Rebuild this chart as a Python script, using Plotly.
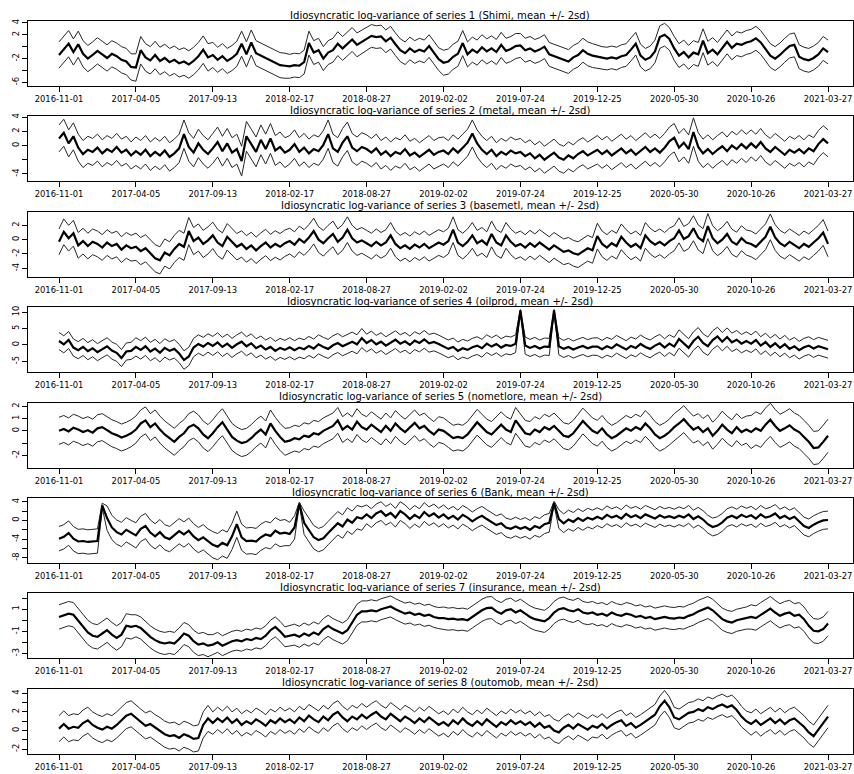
import numpy as np
import plotly.graph_objects as go

W, H = 854, 774

dates = ["2016-11-01", "2017-04-05", "2017-09-13", "2018-02-17", "2018-08-27", "2019-02-02",
         "2019-07-24", "2019-12-25", "2020-05-30", "2020-10-26", "2021-03-27"]
tick_idx = list(range(0, 161, 16))

titles = [
    "Idiosyncratic log-variance of series 1 (Shimi, mean +/- 2sd)",
    "Idiosyncratic log-variance of series 2 (metal, mean +/- 2sd)",
    "Idiosyncratic log-variance of series 3 (basemetl, mean +/- 2sd)",
    "Idiosyncratic log-variance of series 4 (oilprod, mean +/- 2sd)",
    "Idiosyncratic log-variance of series 5 (nometlore, mean +/- 2sd)",
    "Idiosyncratic log-variance of series 6 (Bank, mean +/- 2sd)",
    "Idiosyncratic log-variance of series 7 (insurance, mean +/- 2sd)",
    "Idiosyncratic log-variance of series 8 (outomob, mean +/- 2sd)",
]

p1_mean = [
    -1.4, -0.5, 0.5, -0.9, 0.4, -1.2, -2.0, -1.4, -0.7, -1.3, -1.9, -1.2, -1.6, -2.2, -2.5, -3.4,
    -3.5, -0.6, -1.8, -2.3, -1.4, -2.4, -1.9, -2.6, -2.2, -2.8, -2.5, -3.0, -2.4, -1.6, -0.5, -1.8,
    -1.4, -2.2, -1.6, -2.4, -1.9, -1.2, 0.5, -1.3, 0.7, -1.1, -1.5, -2.0, -2.4, -2.8, -3.1, -3.2,
    -3.3, -3.1, -3.2, -2.6, 0.6, -1.0, -0.6, -2.0, -1.0, -0.6, 0.5, -0.3, 0.4, 1.2, 0.3, 0.8,
    1.3, 1.8, 1.6, 1.7, 0.9, 1.5, 0.4, -0.6, -1.1, -0.3, -0.9, -0.5, -0.8, 0.1, -1.0, -2.1,
    -2.7, -2.5, -1.7, -1.2, 0.6, -1.3, -0.5, -1.0, -0.1, -0.8, -0.3, -0.9, 0.3, -0.7, -0.4, 0.1,
    0.2, -0.6, -0.3, -0.8, -0.5, 0.0, -1.3, -1.6, -1.9, -2.1, -2.5, -1.8, -1.4, -0.6, -1.2, -1.5,
    -1.7, -1.9, -2.0, -1.8, -2.0, -1.6, -1.4, -0.5, 0.5, -1.5, -2.2, -1.8, -0.8, 1.6, 2.0, 1.3,
    -0.3, -1.5, -0.9, -1.8, -1.0, -1.3, 1.0, -1.1, -0.5, -1.3, -0.2, 0.8, -0.2, 0.5, 0.3, 0.7,
    0.9, 1.4, 0.7, -0.4, -1.5, -2.0, -1.4, -0.6, 0.1, 0.3, -1.7, -2.1, -2.3, -1.9, -1.3, -0.3, -0.9,
]
p2_mean = [
    1.0, 1.8, 0.3, 1.3, -0.3, -1.2, -0.6, -0.9, -0.3, -1.1, -0.5, -0.9, -0.2, -1.0, -0.6, -1.4,
    -0.8, -1.3, -0.6, -1.5, -0.9, -1.4, -0.7, -1.6, -1.1, -0.4, 1.6, -0.2, -1.0, 0.3, -0.6, -1.2,
    -0.4, 0.5, -0.8, 0.3, -1.0, -0.5, -2.2, 1.3, 0.2, -0.9, 0.8, -0.5, 1.0, -0.7, -0.2, -1.0,
    -0.6, 0.2, -0.9, -0.3, -1.1, -0.5, -0.8, 0.1, 1.6, -0.4, -0.9, 0.4, 1.3, -0.3, -0.8, -0.2,
    -0.5, -1.0, -0.4, -1.3, -0.8, -1.5, -0.9, -1.2, -0.5, -1.4, -1.0, -1.6, -1.1, -0.6, -1.3, -0.9,
    -0.7, -1.2, -0.4, -1.0, -0.3, 0.4, 1.7, 0.3, -0.6, -1.2, -0.6, -1.5, -0.9, -1.3, -0.7, -1.1,
    -0.9, -1.5, -1.1, -1.8, -1.3, -2.0, -1.5, -1.0, -1.7, -2.0, -1.4, -1.8, -1.2, -0.8, -1.4, -1.0,
    -0.6, -1.2, -0.7, -1.4, -0.9, -0.4, -1.1, -0.6, -1.3, -0.8, -0.2, -0.9, -0.4, -1.0, -0.3, 0.6,
    1.1, -0.3, 0.4, -0.5, 1.9, -0.2, -1.1, -0.5, -1.2, -0.6, -0.1, -0.8, 0.0, -0.5, 0.2, -0.4,
    0.3, -0.3, 0.5, -0.4, -0.9, -0.2, -0.8, -1.3, -0.6, -1.0, -0.5, -1.1, -0.4, -0.8, 0.2, 0.9, 0.3,
]
p3_mean = [
    -0.3, 1.1, 0.2, 0.9, -0.8, -0.2, -0.9, -0.3, -0.6, -1.1, -0.4, -0.9, -0.6, -1.4, -0.8, -1.2,
    -1.0, -1.6, -1.2, -1.9, -2.6, -2.9, -1.8, -2.2, -1.3, -0.6, -1.0, 1.2, -0.2, 0.3, -0.6, -0.1,
    0.6, -0.4, -0.9, 0.4, -0.3, -1.0, -0.6, -1.3, -0.8, -1.5, -0.9, -0.4, -1.1, -0.6, -1.0, -0.5,
    -0.2, -0.7, 0.1, -0.4, 0.3, 1.2, 0.0, -0.5, 0.2, 0.8, -0.3, 0.3, 1.4, 0.2, -0.4, -0.1,
    -0.5, -0.9, -0.3, -0.8, -0.4, 0.6, -0.6, -1.2, -0.8, -1.3, -0.7, -1.1, -0.6, -1.2, -0.8, -0.4,
    -0.7, -0.2, 1.4, -0.4, -0.9, -0.3, 0.6, -0.5, -0.1, -0.7, 0.8, -0.4, -0.8, 0.6, -0.3, -0.9,
    -0.6, -1.1, -0.5, -1.0, -0.4, -0.9, -1.4, -0.8, -1.3, -1.7, -1.5, -1.9, -2.1, -1.6, -1.2, -1.5,
    0.5, -0.6, -1.1, -0.5, -0.9, 0.4, -0.4, -1.0, -0.6, -1.2, 0.6, -0.2, -0.7, -0.3, -0.8, -0.2,
    0.2, 1.3, 0.1, 0.5, 1.6, 0.3, -0.2, 1.9, 0.2, -0.5, 0.0, 0.8, -0.3, -0.7, 0.2, -0.4,
    -0.6, -1.0, -0.3, 0.4, 1.8, 0.3, -0.5, -0.9, -0.3, -0.8, -1.2, -0.6, -1.0, -0.4, 0.2, 1.0, -0.6,
]
p4_mean = [
    1.2, 0.2, 1.5, -0.8, -1.6, -0.6, -1.9, -1.0, -2.2, -1.3, -0.4, -1.7, -2.4, -4.0, -2.0, -1.8,
    -0.6, -1.5, -0.4, -2.0, -1.1, -2.4, -0.9, -1.8, -1.2, -2.6, -4.6, -3.5, -0.8, 0.3, -0.5, 0.6,
    -0.3, 0.8, -0.6, 0.4, -0.9, 0.2, 1.0, -0.4, 0.5, -1.0, -0.2, -1.4, -0.6, -1.8, -0.9, -1.5,
    -0.7, -1.6, -0.8, -1.3, -0.3, -1.1, 0.2, -0.6, -1.2, -0.1, 0.6, -0.4, 0.3, 1.0, 0.2, 2.1,
    0.6, 1.5, 0.2, 1.0, -0.2, 0.8, 1.6, 0.4, 1.1, 0.0, 1.3, 0.6, 1.7, 0.5, 0.9, 0.3,
    -0.4, -1.2, -0.6, -1.8, -1.0, -1.5, -0.7, -0.2, -1.0, 0.4, -0.5, 0.3, -0.8, 0.0, -0.3, 0.4,
    10.5, -0.2, -0.9, -0.3, -1.1, -0.5, -0.6, 10.5, -0.4, -1.2, -0.6, -1.4, -0.8, -0.3, -1.0, -0.5,
    -0.5, -1.3, -0.4, -1.0, 0.2, -0.7, -1.4, -0.3, -0.9, 0.3, -0.6, -1.2, -0.2, 0.5, -0.8, 0.4,
    -0.5, 1.8, 0.3, -0.9, 1.2, 2.5, 0.6, -0.4, 1.5, 2.6, 1.0, 2.4, 0.8, 1.6, 0.4, 1.2,
    0.4, 1.5, -0.2, 0.9, -0.6, 0.5, -0.9, 0.2, -1.2, -0.4, -1.6, -0.7, -0.2, -1.1, -0.4, -0.9, -1.3,
]
p5_mean = [
    0.0, 0.15, -0.05, 0.25, 0.1, -0.1, 0.05, -0.15, 0.2, 0.3, 0.05, -0.2, -0.35, -0.55, -0.4, -0.2,
    0.1, 0.6, 0.85, 0.3, 0.6, 0.1, -0.3, -0.6, -0.9, -0.5, -0.2, 0.3, 0.5, 0.2, -0.3, -0.6,
    -0.2, 0.3, 0.7, 0.1, -0.5, -0.8, -1.0, -0.9, -0.6, -0.2, 0.1, -0.3, 0.6, 0.0, -0.5, -0.9,
    -0.8, -0.6, -0.7, -0.4, -0.5, -0.2, -0.3, 0.0, 0.2, 0.4, 0.85, 0.1, 0.4, 0.1, 0.75, 0.3,
    0.1, 0.5, 0.2, -0.1, 0.4, 0.0, 0.6, 0.2, -0.1, 0.3, 0.65, 0.2, 0.4, 0.0, -0.3, 0.1,
    0.0, -0.3, -0.6, -0.5, -0.6, -0.3, 0.2, 0.7, 0.3, -0.1, -0.3, 0.1, 0.5, 0.1, -0.1, 0.85,
    0.3, -0.2, -0.3, 0.1, -0.1, 0.3, 0.1, 0.4, 0.0, -0.4, -0.5, -0.2, 0.3, 0.8, 0.4, 0.0,
    -0.2, 0.2, -0.3, -0.6, -0.4, -0.1, 0.2, 0.0, 0.3, 0.1, 0.6, 0.2, -0.3, -0.6, -0.4, -0.1,
    0.3, 0.6, 0.95, 0.5, 0.1, 0.3, -0.1, 0.2, -0.4, 0.0, 0.5, 0.1, -0.2, 0.3, -0.1, 0.1,
    -0.1, 0.2, 0.0, 0.5, 0.9, 0.4, 0.0, 0.2, 0.45, 0.1, -0.1, -0.5, -0.9, -1.4, -1.35, -0.9, -0.4,
]
p6_mean = [
    -3.9, -3.5, -2.7, -3.9, -4.5, -4.4, -4.6, -4.5, -4.4, 3.2, 0.5, -1.5, -2.5, -3.0, -2.0, -2.6,
    -3.2, -1.8, -1.2, -2.6, -3.4, -2.5, -3.6, -4.0, -3.2, -2.3, -3.0, -2.2, -3.4, -4.2, -3.6, -4.5,
    -5.2, -5.6, -4.8, -5.3, -3.4, -0.8, -3.6, -4.4, -4.3, -4.5, -3.6, -3.0, -3.3, -2.2, -2.8, -2.6,
    -2.9, -1.5, 3.6, -0.5, -2.0, -3.6, -4.2, -3.8, -2.7, -1.6, -0.6, -1.3, 0.2, -0.5, 0.7, 0.4,
    1.3, 0.5, 1.5, 2.0, 1.0, 1.6, 0.6, 2.0, 1.3, 0.3, 1.2, 0.5, 1.8, 0.9, 1.5, 0.6,
    1.3, 0.4, 1.0, 0.2, 1.2, 0.6, -0.2, 0.5, 1.0, 0.3, -0.3, -1.0, -0.6, -1.5, -1.8, -1.3,
    -1.8, -1.4, -2.0, -1.2, -1.6, -0.8, -0.5, 3.7, 0.3, -0.6, 0.2, -0.3, 0.5, -0.1, 0.6, 0.2,
    0.8, 0.3, 1.2, 0.6, 1.0, 0.4, 1.4, 0.7, 1.1, 0.5, 1.3, 0.8, 0.4, 1.1, 0.6, 0.9,
    0.5, 1.0, 0.6, 1.3, 0.3, 0.9, 0.2, -0.8, -1.4, -1.1, -0.4, 0.6, 1.0, 0.5, 1.2, 0.7,
    1.1, 0.4, 1.3, 0.6, 0.9, 1.5, 0.5, 1.0, 0.3, 0.8, -0.2, -1.2, -1.6, -0.9, -0.4, 0.0, 0.1,
]
p7_mean = [
    0.3, 0.45, 0.6, 0.5, 0.0, -0.6, -1.1, -1.4, -1.5, -1.2, -0.9, -1.3, -1.6, -1.3, -0.5, -0.6,
    -0.5, -0.7, -1.1, -1.5, -1.8, -2.0, -2.1, -2.0, -2.1, -1.7, -1.2, -1.4, -1.9, -2.2, -2.1, -2.3,
    -2.2, -2.0, -2.3, -2.1, -1.9, -1.8, -1.9, -1.7, -1.8, -1.6, -1.7, -1.4, -0.9, -0.6, -1.0, -1.5,
    -1.4, -1.3, -1.5, -1.2, -1.4, -1.1, -1.3, -0.8, -0.5, -0.8, -1.0, -1.2, -0.9, -0.2, 0.5, 0.8,
    0.8, 0.9, 0.8, 1.0, 1.1, 1.25, 1.0, 0.8, 0.6, 0.7, 0.5, 0.6, 0.4, 0.5, 0.3, 0.2,
    0.2, 0.1, 0.15, 0.05, 0.1, 0.0, 0.3, 0.6, 0.9, 1.1, 1.15, 0.8, 0.6, 0.9, 1.0, 0.7,
    0.9, 0.6, 0.3, 0.1, 0.0, -0.1, 0.2, 0.7, 1.0, 1.1, 0.9, 0.8, 1.0, 0.7, 0.6, 0.7,
    0.5, 0.6, 0.4, 0.7, 0.5, 0.4, 0.6, 0.5, 0.3, 0.4, 0.2, 0.3, 0.1, 0.2, 0.3, 0.2,
    0.15, 0.25, 0.2, 0.4, 0.55, 0.8, 1.0, 1.15, 0.9, 0.5, 0.1, -0.1, -0.2, 0.0, 0.1, 0.2,
    0.3, 0.2, 0.5, 0.8, 1.05, 0.7, 0.4, 0.6, 0.7, 0.4, 0.5, 0.1, -0.5, -0.95, -1.0, -0.8, -0.3,
]
p8_mean = [
    0.2, 0.7, 0.2, 0.4, 0.3, 0.8, 1.1, 0.6, 0.3, 0.1, 0.4, 0.2, 0.6, 1.1, 1.6, 1.8,
    1.4, 0.9, 0.5, 0.7, 0.3, 0.0, -0.4, -0.6, -0.5, -0.8, -0.4, -0.6, -0.9, -0.8, 0.6, 1.3,
    0.8, 1.3, 0.9, 1.4, 0.8, 1.2, 0.6, 1.0, 0.7, 1.2, 0.9, 0.5, 1.1, 0.8, 1.3, 0.9,
    1.2, 0.8, 1.4, 1.0, 1.6, 1.2, 0.9, 1.5, 1.1, 1.7, 2.0, 1.4, 1.0, 1.5, 1.2, 1.7,
    1.3, 1.7, 2.0, 1.5, 1.2, 1.8, 1.4, 1.0, 1.5, 1.2, 0.8, 1.3, 0.9, 1.4, 1.0, 0.6,
    0.9, 0.5, 1.1, 0.7, 1.3, 0.8, 0.5, 1.0, 0.6, 1.2, 0.8, 0.4, 0.9, 0.6, 1.1, 0.7,
    1.0, 0.6, 0.9, 0.4, 0.8, 0.3, 0.5, 0.0, -0.2, 0.3, 0.6, 0.2, 0.7, 0.4, 0.1, 0.5,
    0.3, 0.7, 0.2, 0.6, 0.9, 1.1, 0.5, 0.8, 0.3, 0.6, 1.0, 1.3, 1.7, 2.6, 3.2, 2.5,
    1.4, 1.2, 1.6, 1.9, 2.0, 2.3, 2.1, 2.5, 2.3, 2.6, 2.8, 2.5, 2.7, 2.2, 1.5, 1.0,
    0.7, 1.1, 0.6, 1.0, 1.3, 0.8, 1.2, 0.7, 1.1, 1.3, 0.9, 0.4, -0.2, -0.6, 0.1, 0.8, 1.5,
]

# two standard deviations, one value per interval between date ticks
p1_sd2 = [2.2, 2.3, 2.1, 2.0, 1.9, 2.1, 2.0, 1.9, 2.0, 2.0]
p2_sd2 = [1.9, 2.0, 2.1, 2.0, 2.0, 1.9, 1.9, 2.0, 2.0, 1.9]
p3_sd2 = [1.8, 1.9, 1.85, 1.8, 1.8, 1.8, 1.8, 1.8, 1.75, 1.8]
p4_sd2 = [2.6, 2.8, 2.9, 2.9, 2.7, 2.7, 2.6, 2.7, 2.8, 2.7]
p5_sd2 = [1.1, 1.1, 1.1, 1.05, 1.05, 1.05, 1.05, 1.05, 1.1, 1.35]
p6_sd2 = [2.6, 2.7, 2.8, 2.5, 2.0, 2.0, 2.0, 1.9, 1.9, 1.9]
p7_sd2 = [1.1, 1.0, 0.9, 0.95, 0.95, 1.0, 1.0, 1.0, 1.0, 1.1]
p8_sd2 = [1.4, 1.4, 1.2, 1.2, 1.2, 1.2, 1.2, 1.1, 1.1, 1.2]

# points where the band collapses onto a spike
p4_spike_idx = [96, 103]
p4_spike_sd2 = [0.3, 0.3]
p6_spike_idx = [9, 50, 103]
p6_spike_sd2 = [0.5, 0.3, 0.4]

y_ranges = [[-6.6, 4.3], [-5.05, 4.1], [-5.2, 3.9], [-8.3, 11.5],
            [-3.0, 2.3], [-9.1, 4.8], [-3.45, 2.43], [-2.5, 4.48]]
y_tickvals = [[-6, -4, -2, 0, 2, 4], [-4, -2, 0, 2, 4], [-4, -2, 0, 2], [-5, 0, 5, 10],
              [-2, -1, 0, 1, 2], [-8, -6, -4, -2, 0, 2, 4], [-3, -2, -1, 0, 1, 2],
              [-2, -1, 0, 1, 2, 3, 4]]
y_ticktext = [["-6", "", "-2", "", "2", "4"], ["-4", "", "0", "2", "4"], ["-4", "-2", "0", "2"],
              ["-5", "0", "5", "10"], ["-2", "", "0", "1", "2"],
              ["-8", "", "-4", "", "0", "", "4"], ["-3", "", "-1", "", "1", ""],
              ["-2", "", "0", "", "2", "", "4"]]

means = [p1_mean, p2_mean, p3_mean, p4_mean, p5_mean, p6_mean, p7_mean, p8_mean]
sd2s = [p1_sd2, p2_sd2, p3_sd2, p4_sd2, p5_sd2, p6_sd2, p7_sd2, p8_sd2]
spikes = [[], [], [], list(zip(p4_spike_idx, p4_spike_sd2)), [],
          list(zip(p6_spike_idx, p6_spike_sd2)), [], []]

FONT = "DejaVu Sans, Verdana, sans-serif"
BOX_L, BOX_R = 28, 853
TOP0, BOX_H, STEP = 21, 65, 95.4
X_RANGE = [-6.45, 165.2]

fig = go.Figure()
annotations = []
layout = {}
for k in range(8):
    mean = np.array(means[k], dtype=float)
    n = len(mean)
    seg = sd2s[k]
    sd2 = np.array([seg[min(i // 16, len(seg) - 1)] for i in range(n)], dtype=float)
    for idx, v in spikes[k]:
        sd2[idx] = v
    x = np.arange(n)
    xr = "x" if k == 0 else f"x{k+1}"
    yr = "y" if k == 0 else f"y{k+1}"
    for yy, w, c in [(mean + sd2, 1.0, "#262626"), (mean - sd2, 1.0, "#262626"), (mean, 2.2, "#000000")]:
        fig.add_trace(go.Scatter(x=x, y=yy, mode="lines", line=dict(color=c, width=w),
                                 xaxis=xr, yaxis=yr, showlegend=False, hoverinfo="skip"))
    top = TOP0 + STEP * k
    bot = top + BOX_H
    xa = "xaxis" if k == 0 else f"xaxis{k+1}"
    ya = "yaxis" if k == 0 else f"yaxis{k+1}"
    layout[xa] = dict(domain=[BOX_L / W, BOX_R / W], range=X_RANGE, anchor=yr,
                      tickmode="array", tickvals=tick_idx, ticktext=dates,
                      ticks="outside", ticklen=5, tickwidth=1, tickcolor="black",
                      showline=True, linecolor="black", linewidth=1, mirror=True,
                      showgrid=False, zeroline=False, automargin=False,
                      tickfont=dict(family=FONT, size=8.4, color="black"))
    layout[ya] = dict(domain=[1 - bot / H, 1 - top / H], range=y_ranges[k], anchor=xr,
                      tickmode="array", tickvals=y_tickvals[k], ticktext=y_ticktext[k],
                      tickangle=-90, ticks="outside", ticklen=5, tickwidth=1, tickcolor="black",
                      showline=True, linecolor="black", linewidth=1, mirror=True,
                      showgrid=False, zeroline=False, automargin=False,
                      tickfont=dict(family=FONT, size=8.4, color="black"))
    annotations.append(dict(text=titles[k], xref="paper", yref="paper",
                            x=(BOX_L + BOX_R) / 2 / W, y=1 - (top + 0.5) / H,
                            xanchor="center", yanchor="bottom", showarrow=False, borderpad=0,
                            font=dict(family=FONT, size=10.1, color="black")))

fig.update_layout(width=W, height=H, margin=dict(l=0, r=0, t=0, b=0),
                  paper_bgcolor="white", plot_bgcolor="white",
                  annotations=annotations, showlegend=False, **layout)
fig.write_html("out.html", config={"staticPlot": True, "displayModeBar": False},
               post_script="document.body.style.margin='0';document.body.style.overflow='hidden';")
